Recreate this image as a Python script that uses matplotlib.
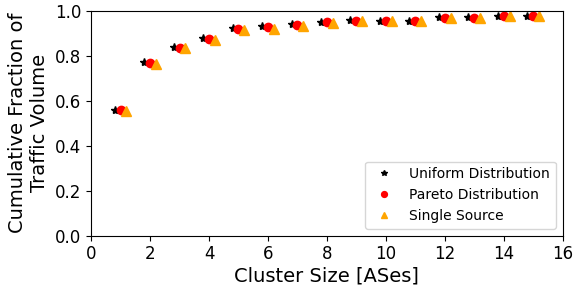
import numpy as np
import matplotlib
matplotlib.use('Agg')
import matplotlib.pyplot as plt

# Cluster sizes and cumulative fraction of traffic volume
cluster_size = np.arange(1, 16)
uniform = [0.557, 0.771, 0.840, 0.880, 0.922, 0.932, 0.940, 0.951,
           0.956, 0.955, 0.955, 0.970, 0.970, 0.978, 0.978]
pareto = [0.557, 0.765, 0.834, 0.874, 0.919, 0.929, 0.937, 0.948,
          0.954, 0.954, 0.954, 0.969, 0.969, 0.976, 0.976]
single = [0.554, 0.763, 0.833, 0.868, 0.912, 0.920, 0.930, 0.947,
          0.954, 0.953, 0.953, 0.968, 0.968, 0.976, 0.976]

fig = plt.figure(figsize=(5.73, 2.86), dpi=100)
ax = fig.add_axes([0.159, 0.176, 0.823, 0.787])

ax.plot(cluster_size - 0.2, uniform, linestyle='none', marker='*', color='black',
        markersize=6, label='Uniform Distribution')
ax.plot(cluster_size, pareto, linestyle='none', marker='o', color='red',
        markersize=6, label='Pareto Distribution')
ax.plot(cluster_size + 0.2, single, linestyle='none', marker='^', color='orange',
        markersize=6.5, label='Single Source')

ax.set_xlim(0, 16)
ax.set_ylim(0, 1.0)
ax.set_xticks(np.arange(0, 17, 2))
ax.set_yticks(np.arange(0, 1.01, 0.2))
ax.tick_params(labelsize=12)
ax.set_xlabel('Cluster Size [ASes]', fontsize=14, labelpad=2)
ax.set_ylabel('Cumulative Fraction of\nTraffic Volume', fontsize=14, labelpad=4)
ax.legend(loc='lower right', fontsize=10, markerscale=0.7)

fig.savefig('out.png', dpi=100)
